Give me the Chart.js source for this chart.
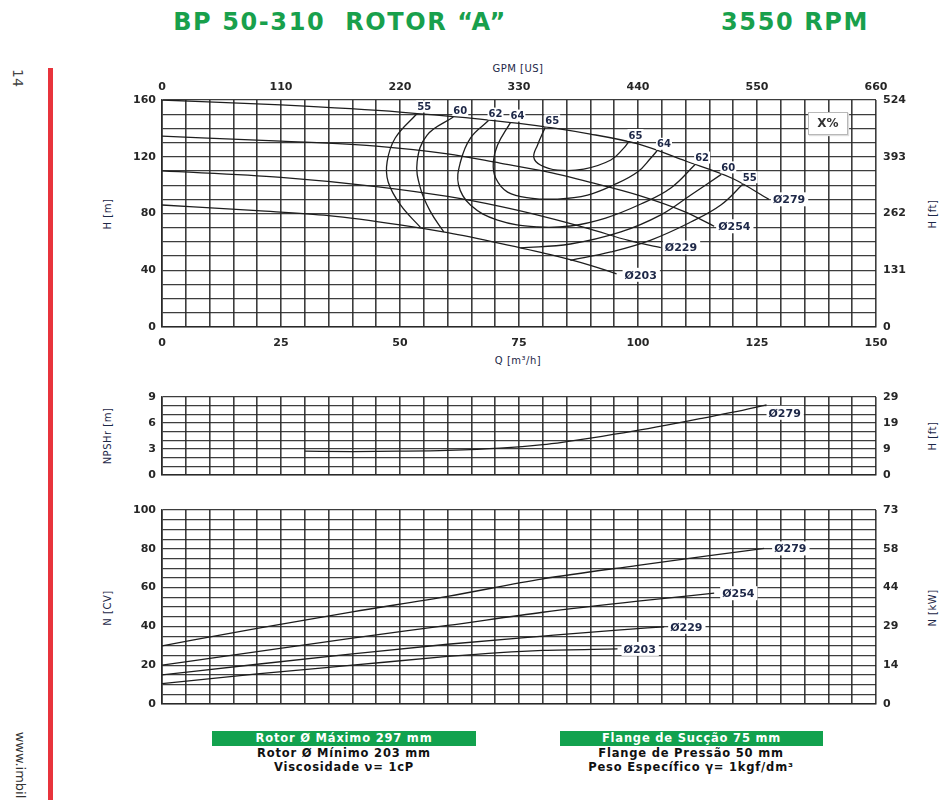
<!DOCTYPE html>
<html>
<head>
<meta charset="utf-8">
<script src="https://cdn.jsdelivr.net/npm/chart.js@4"></script>
<style>
  body { margin: 0; background: #fff; }
  #page { position: relative; width: 941px; height: 800px; overflow: hidden; font-family: "DejaVu Sans", "Liberation Sans", sans-serif; }
  canvas { position: absolute; left: 0; }
  .t { position: absolute; white-space: nowrap; transform: translate(-50%, -50%); }
  .rl { transform: translate(-50%, -50%) rotate(-90deg); }
  .rr { transform: translate(-50%, -50%) rotate(90deg); }
  .title { font-weight: bold; font-size: 24px; color: #18a04c; letter-spacing: 1.6px; }
  .axt { font-size: 10px; color: #1d2747; letter-spacing: 0.5px; }
  .foot { font-weight: bold; font-size: 11.5px; color: #111; letter-spacing: 0.8px; }
  .band { position: absolute; background: #12a24e; color: #fff; font-weight: bold; font-size: 11.5px; letter-spacing: 0.8px; text-align: center; line-height: 15px; height: 15px; }
</style>
</head>
<body>
<div id="page">
  <div class="t title" style="left:340px; top:22px;">BP 50-310&nbsp; ROTOR “A”</div>
  <div class="t title" style="left:795px; top:22px;">3550 RPM</div>

  <div style="position:absolute; left:48px; top:68px; width:5px; height:740px; background:#e8343c;"></div>
  <div class="t rr" style="left:18px; top:78px; font-size:14px; color:#444;">14</div>
  <div class="t rr" style="left:20px; top:765px; font-size:13px; color:#333;">www.imbil</div>

  <div class="t axt" style="left:518px; top:68px;">GPM [US]</div>
  <div class="t axt" style="left:518px; top:360px;">Q [m³/h]</div>
  <div class="t axt rl" style="left:107px; top:214px;">H [m]</div>
  <div class="t axt rl" style="left:932px; top:214px;">H [ft]</div>
  <div class="t axt rl" style="left:107px; top:436px;">NPSHr [m]</div>
  <div class="t axt rl" style="left:932px; top:436px;">H [ft]</div>
  <div class="t axt rl" style="left:107px; top:608px;">N [CV]</div>
  <div class="t axt rl" style="left:932px; top:608px;">N [kW]</div>

  <canvas id="cHead" width="941" height="330" style="top:40px"></canvas>
  <canvas id="cNpsh" width="941" height="110" style="top:380px"></canvas>
  <canvas id="cPow" width="941" height="230" style="top:490px"></canvas>

  <div style="position:absolute; left:808px; top:112px; width:38px; height:21px; border:1px solid #b8b8b8; background:#fff; box-shadow:1px 1px 1px #ddd; font-weight:bold; font-size:12px; line-height:21px; text-align:center; color:#333;">X%</div>

  <div class="band" style="left:212px; top:731px; width:264px;">Rotor Ø Máximo 297 mm</div>
  <div class="t foot" style="left:344px; top:753px;">Rotor Ø Mínimo 203 mm</div>
  <div class="t foot" style="left:344px; top:767px;">Viscosidade ν= 1cP</div>
  <div class="band" style="left:560px; top:731px; width:263px;">Flange de Sucção 75 mm</div>
  <div class="t foot" style="left:691px; top:753px;">Flange de Pressão 50 mm</div>
  <div class="t foot" style="left:691px; top:767px;">Peso Específico γ= 1kgf/dm³</div>
</div>

<script>
// axis ticks
const qTicks = [0, 25, 50, 75, 100, 125, 150];
const gpmTicks = [0, 110, 220, 330, 440, 550, 660];
const headTicks = [0, 40, 80, 120, 160];
const headFtTicks = [0, 131, 262, 393, 524];
const npshTicks = [0, 3, 6, 9];
const npshFtTicks = [0, 9, 19, 29];
const powTicks = [0, 20, 40, 60, 80, 100];
const powKwTicks = [0, 14, 29, 44, 58, 73];

// head curves [Q m3/h, H m]
const head279 = [[0,160],[25,156.5],[50,151.5],[75,143.5],[90,136],[100,129],[110,117],[120,104.5],[127.5,90]];
const head254 = [[0,134.5],[25,131],[45,127.5],[60,122],[71,115.5],[80,110],[90,102],[100,93],[110,81],[116,71]];
const head229 = [[0,110],[25,105.5],[45,99],[60,92],[71,85],[80,78],[90,69],[98,61],[104.8,56]];
const head203 = [[0,86],[20,82],[35,78.5],[50,72],[60,66.5],[71,59],[81.6,51],[90,43.5],[95.5,37.5]];

// efficiency contours [Q, H]
const eff55a = [[53.6,150.5],[49,133.2],[47.3,116.5],[47.5,102.4],[50.1,86],[54.3,70.2]];
const eff55b = [[122,100.6],[117.4,86],[111.1,74],[102.7,61.3],[94.3,52.9],[85.8,47]];
const eff60a = [[61.2,148],[55.7,135.3],[53.6,116.5],[54.3,97.7],[56.4,81.3],[59.2,67]];
const eff60b = [[117.5,107.6],[111.1,93],[104.8,79],[96.4,67],[85.8,58.5],[75.3,55.8]];
const eff62 = [[68.6,145.5],[64.8,133.2],[62.7,116.3],[62.3,100.1],[64.8,86],[70.5,75.4],[78.9,70.5],[85.8,71.2],[93.2,76.8],[100.6,86.7],[106.9,98],[112,114.5]];
const eff64 = [[73.2,144.1],[70.5,128.3],[69.6,116.3],[70.1,105],[72.6,95.1],[77.4,90.9],[83.1,90.2],[89.4,93],[94.9,100.1],[99.9,109.2],[102.7,119.1],[104,124.2]];
const eff65 = [[80.5,140.7],[78.9,128.3],[78.1,119.8],[79.5,114.2],[83.1,110.6],[88.6,111.3],[94.3,117.7],[97,126.1],[98,130.4]];

// NPSHr, diameter 279
const npshQ = [30, 40, 50, 60, 71, 80, 85, 90, 99, 106, 113, 120, 127];
const npsh279 = [2.75, 2.7, 2.75, 2.85, 3.1, 3.5, 3.85, 4.25, 5.05, 5.75, 6.5, 7.25, 8.1];

// power [Q, N cv]
const pow279 = [[0,30],[20,39],[40,47.5],[60,55.5],[80,64.5],[100,71.5],[115,76.5],[126.5,80.2]];
const pow254 = [[0,20],[20,27],[40,34],[60,40.5],[80,47.3],[100,53],[116,57.1]];
const pow229 = [[0,15],[20,20.5],[40,25.8],[60,30.8],[80,35],[95,38],[105.5,39.8]];
const pow203 = [[0,10.5],[20,15.5],[40,20],[60,24.5],[71,26.5],[80,27.6],[95.7,28.4]];

const tickFont = { family: '"DejaVu Sans", sans-serif', size: 11, weight: 'bold' };
const TICK = '#262626';
const GRID = 'rgba(40,40,40,0.9)';
const LINE = '#1e1e1e';

function xAxis(showLabels, h) {
  return {
    type: 'linear', position: 'bottom', min: 0, max: 150,
    ticks: { stepSize: 5, autoSkip: false, maxRotation: 0, display: showLabels, padding: 10,
      font: tickFont, color: TICK, callback: v => qTicks.includes(v) ? v : '' },
    grid: { color: GRID, lineWidth: 1.6, drawTicks: false },
    border: { color: GRID, width: 1.6 },
    afterFit: s => { s.height = h; }
  };
}

function yAxis(max, step, labels) {
  return {
    type: 'linear', position: 'left', min: 0, max: max,
    ticks: { stepSize: step, autoSkip: false, padding: 6, font: tickFont, color: TICK,
      callback: v => labels.includes(v) ? v : '' },
    grid: { color: GRID, lineWidth: 1.2, drawTicks: false },
    border: { color: GRID, width: 1.6 },
    afterFit: s => { s.width = 162; }
  };
}

function yRight(max, at, labels) {
  return {
    type: 'linear', position: 'right', min: 0, max: max,
    afterBuildTicks: s => { s.ticks = at.map(v => ({ value: v })); },
    ticks: { autoSkip: false, padding: 7, font: tickFont, color: TICK, callback: (v, i) => labels[i] },
    grid: { drawOnChartArea: false, drawTicks: false },
    border: { display: false },
    afterFit: s => { s.width = 65; }
  };
}

function curve(arr, extra) {
  return Object.assign({
    data: arr.map(([x, y]) => ({ x, y })),
    xAxisID: 'x', yAxisID: 'y',
    borderColor: LINE, borderWidth: 1.3, pointRadius: 0, tension: 0.4, fill: false
  }, extra || {});
}

// labels at curve ends: diameters in white boxes, efficiencies above the top ends
const curveLabels = {
  id: 'curveLabels',
  afterDatasetsDraw(chart) {
    const ctx = chart.ctx;
    ctx.save();
    ctx.textBaseline = 'middle';
    chart.data.datasets.forEach((ds, i) => {
      const pts = chart.getDatasetMeta(i).data;
      if (!pts.length) return;
      const ends = { first: pts[0], last: pts[pts.length - 1] };
      if (ds.endTag) {
        const p = ends.last;
        const [dx, dy] = ds.endTagOffset || [4, 0];
        ctx.font = 'bold 11px "DejaVu Sans"';
        const w = ctx.measureText(ds.endTag).width;
        ctx.fillStyle = '#fff';
        ctx.fillRect(p.x + dx - 2, p.y + dy - 7, w + 5, 14);
        ctx.fillStyle = '#1d2747';
        ctx.fillText(ds.endTag, p.x + dx, p.y + dy + 1);
      }
      (ds.effTags || []).forEach(([which, text]) => {
        const p = ends[which];
        ctx.font = 'bold 10px "DejaVu Sans"';
        const w = ctx.measureText(text).width;
        const x = p.x + 7, y = p.y - 7;
        ctx.fillStyle = '#fff';
        ctx.fillRect(x - w / 2 - 1, y - 6, w + 2, 12);
        ctx.fillStyle = '#1d2747';
        ctx.textAlign = 'center';
        ctx.fillText(text, x, y + 1);
        ctx.textAlign = 'left';
      });
    });
    ctx.restore();
  }
};

const common = {
  responsive: false,
  animation: false,
  plugins: { legend: { display: false }, tooltip: { enabled: false } }
};

// ======== Head / efficiency ========
new Chart(document.getElementById('cHead'), {
  type: 'line',
  data: {
    datasets: [
      curve(head279, { cubicInterpolationMode: 'monotone', endTag: 'Ø279' }),
      curve(head254, { cubicInterpolationMode: 'monotone', endTag: 'Ø254' }),
      curve(head229, { cubicInterpolationMode: 'monotone', endTag: 'Ø229' }),
      curve(head203, { cubicInterpolationMode: 'monotone', endTag: 'Ø203', endTagOffset: [8, 1] }),
      curve(eff55a, { effTags: [['first', '55']] }),
      curve(eff55b, { effTags: [['first', '55']] }),
      curve(eff60a, { effTags: [['first', '60']] }),
      curve(eff60b, { effTags: [['first', '60']] }),
      curve(eff62, { effTags: [['first', '62'], ['last', '62']] }),
      curve(eff64, { effTags: [['first', '64'], ['last', '64']] }),
      curve(eff65, { effTags: [['first', '65'], ['last', '65']] })
    ]
  },
  options: Object.assign({}, common, {
    layout: { padding: 0 },
    scales: {
      x: xAxis(true, 43),
      xTop: {
        type: 'linear', position: 'top', min: 0, max: 150,
        afterBuildTicks: s => { s.ticks = qTicks.map(v => ({ value: v })); },
        ticks: { autoSkip: false, maxRotation: 0, padding: 6, font: tickFont, color: TICK, callback: (v, i) => gpmTicks[i] },
        grid: { display: false, drawTicks: false },
        border: { display: false },
        afterFit: s => { s.height = 60; }
      },
      y: yAxis(160, 10, headTicks),
      yR: yRight(160, headTicks, headFtTicks)
    }
  }),
  plugins: [curveLabels]
});

// ======== NPSHr ========
new Chart(document.getElementById('cNpsh'), {
  type: 'line',
  data: {
    datasets: [
      curve(npshQ.map((q, i) => [q, npsh279[i]]), { cubicInterpolationMode: 'monotone', endTag: 'Ø279', endTagOffset: [2, 8] })
    ]
  },
  options: Object.assign({}, common, {
    layout: { padding: { top: 17 } },
    scales: {
      x: xAxis(false, 15),
      y: yAxis(9, 1, npshTicks),
      yR: yRight(9, npshTicks, npshFtTicks)
    }
  }),
  plugins: [curveLabels]
});

// ======== Power ========
new Chart(document.getElementById('cPow'), {
  type: 'line',
  data: {
    datasets: [
      curve(pow279, { cubicInterpolationMode: 'monotone', endTag: 'Ø279', endTagOffset: [10, 0] }),
      curve(pow254, { cubicInterpolationMode: 'monotone', endTag: 'Ø254', endTagOffset: [8, 0] }),
      curve(pow229, { cubicInterpolationMode: 'monotone', endTag: 'Ø229', endTagOffset: [6, 0] }),
      curve(pow203, { cubicInterpolationMode: 'monotone', endTag: 'Ø203', endTagOffset: [6, 0] })
    ]
  },
  options: Object.assign({}, common, {
    layout: { padding: { top: 20 } },
    scales: {
      x: xAxis(false, 16),
      y: yAxis(100, 5, powTicks),
      yR: yRight(100, powTicks, powKwTicks)
    }
  }),
  plugins: [curveLabels]
});
</script>
</body>
</html>
